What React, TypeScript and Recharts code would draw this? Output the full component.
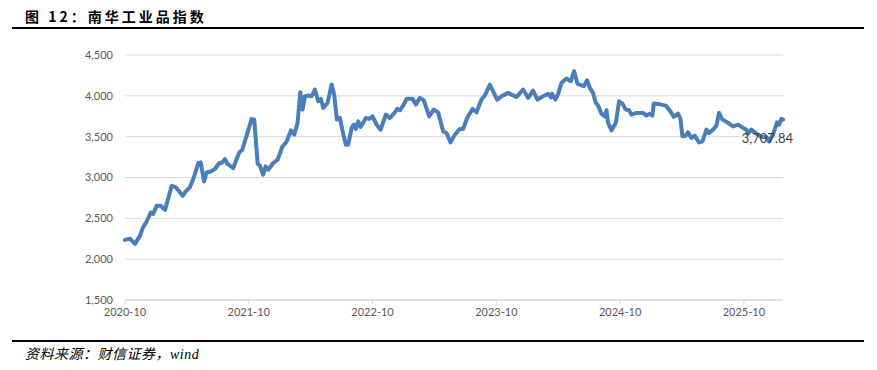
import { LineChart, Line, XAxis, YAxis, CartesianGrid } from 'recharts';

// months since 2020-10 and the index level
const months = [
  0, 0.48, 0.97, 1.45, 1.72, 2.1, 2.49, 2.74, 3.07, 3.46, 3.88, 4.2, 4.53, 4.94, 5.59, 5.81,
  6.3, 6.69, 7.1, 7.34, 7.66, 7.92, 8.3, 8.72, 9.14, 9.37, 9.69, 9.91, 10.49, 10.82, 11.08,
  11.37, 11.79, 12.28, 12.53, 12.86, 13.08, 13.4, 13.63, 13.89, 14.37, 14.8, 15.24, 15.67,
  16.09, 16.41, 16.73, 16.99, 17.22, 17.44, 17.83, 18.09, 18.41, 18.73, 18.99, 19.22, 19.64,
  20.03, 20.28, 20.54, 20.83, 21.15, 21.41, 21.64, 21.97, 22.19, 22.38, 22.61, 22.84, 23.35,
  23.67, 24.0, 24.39, 24.78, 25.29, 25.68, 26.16, 26.39, 26.65, 26.97, 27.3, 27.88, 28.2,
  28.59, 28.97, 29.49, 29.94, 30.36, 30.84, 31.17, 31.56, 31.98, 32.46, 32.78, 33.17, 33.69,
  34.08, 34.56, 34.88, 35.37, 35.69, 36.08, 36.5, 36.82, 37.14, 37.47, 37.96, 38.6, 39.08,
  39.56, 39.99, 40.53, 41.02, 41.28, 41.4, 41.73, 41.99, 42.32, 42.8, 43.22, 43.54, 43.87,
  44.09, 44.48, 44.8, 45.06, 45.38, 45.64, 45.86, 46.19, 46.51, 46.68, 46.83, 47.16, 47.58,
  47.9, 48.23, 48.55, 48.87, 49.1, 49.58, 50.22, 50.55, 50.87, 51.13, 51.26, 51.68, 52.42,
  52.88, 53.2, 53.62, 53.85, 54.04, 54.36, 54.58, 54.91, 55.23, 55.65, 55.98, 56.37, 56.62,
  57.01, 57.34, 57.59, 57.92, 58.24, 58.56, 58.95, 59.43, 59.92, 60.24, 60.4, 60.73, 61.21,
  61.7, 62.18, 62.43, 62.82, 63.21, 63.4, 63.63, 63.79,
];

const values = [
  2236, 2252, 2187, 2285, 2383, 2461, 2571, 2555, 2653, 2653, 2604, 2748, 2899, 2878, 2776, 2817,
  2883, 3006, 3177, 3185, 2952, 3062, 3074, 3104, 3177, 3177, 3226, 3169, 3116, 3226, 3307,
  3340, 3512, 3717, 3709, 3169, 3144, 3034, 3136, 3095, 3177, 3218, 3374, 3442,
  3577, 3525, 3668, 4044, 3831, 3994, 4003, 3994, 4077, 3933, 3963, 3852, 3913,
  4138, 4015, 3709, 3729, 3537, 3402, 3402, 3607, 3647, 3594, 3688, 3619, 3729,
  3717, 3749, 3647, 3586, 3770, 3729, 3798, 3840, 3823, 3880, 3963, 3963, 3893,
  3975, 3945, 3749, 3831, 3798, 3565, 3545, 3430, 3525, 3594, 3594, 3729, 3840,
  3798, 3954, 4003, 4138, 4056, 3954, 3994, 4015, 4036, 4015, 3987, 4077, 3975,
  4064, 3954, 3994, 4024, 3982, 4024, 3954, 4024, 4159, 4212, 4179, 4301, 4147,
  4138, 4117, 4191, 4098, 4036, 3914, 3880, 3782, 3749, 3823, 3668, 3577, 3668,
  3933, 3905, 3831, 3823, 3770, 3791, 3791, 3758, 3779, 3758, 3905, 3901, 3880,
  3810, 3742, 3782, 3717, 3504, 3512, 3553, 3484, 3512, 3430, 3442, 3586, 3545,
  3586, 3635, 3791, 3709, 3688, 3660, 3626, 3647, 3607, 3586, 3537, 3586, 3537,
  3496, 3496, 3442, 3525, 3676, 3647, 3717, 3707.84,
];

const tickMonths = [0, 12, 24, 36, 48, 60];
const tickLabels = ['2020-10', '2021-10', '2022-10', '2023-10', '2024-10', '2025-10'];
const yTicks = [1500, 2000, 2500, 3000, 3500, 4000, 4500];

const data = months.map((m, i) => ({ m, v: values[i] }));

const fmt = (n: number) => n.toLocaleString('en-US');

function EndLabel(props: any) {
  const { x, y, index, value } = props;
  if (index !== data.length - 1) return null;
  return (
    <text x={x + 10} y={y + 23} textAnchor="end" fontSize={13} fill="#404040" fontFamily="Lato">
      {fmt(value)}
    </text>
  );
}

export default function App() {
  return (
    <div style={{ position: 'fixed', left: 0, top: 0, width: 877, height: 370, background: '#fff' }}>
      <div
        style={{
          position: 'absolute', left: 25, top: 5, fontSize: 14, fontWeight: 700,
          letterSpacing: 3, fontFamily: '"Noto Sans CJK SC"', color: '#000', lineHeight: '22px',
        }}
      >
        图 12：南华工业品指数
      </div>
      <div style={{ position: 'absolute', left: 12, top: 27, width: 852, height: 2, background: '#000' }} />

      <div style={{ position: 'absolute', left: 0, top: 0 }}>
        <LineChart width={877} height={340} data={data} margin={{ top: 55, right: 94, bottom: 10, left: 65 }}>
          <CartesianGrid vertical={false} stroke="#d9d9d9" />
          <XAxis
            dataKey="m"
            type="number"
            domain={[0, 63.79]}
            ticks={tickMonths}
            tickFormatter={(m: number) => tickLabels[tickMonths.indexOf(m)]}
            stroke="#d9d9d9"
            tickSize={4}
            tickMargin={4}
            height={30}
            tick={{ fontSize: 11, fill: '#595959', fontFamily: 'Lato' }}
          />
          <YAxis
            domain={[1500, 4500]}
            ticks={yTicks}
            tickFormatter={fmt}
            axisLine={false}
            tickLine={false}
            tickSize={0}
            tickMargin={12}
            width={60}
            tick={{ fontSize: 11, fill: '#595959', fontFamily: 'Lato' }}
          />
          <Line
            type="linear"
            dataKey="v"
            stroke="#4a7ebb"
            strokeWidth={4}
            strokeLinejoin="round"
            strokeLinecap="round"
            dot={false}
            isAnimationActive={false}
            label={<EndLabel />}
          />
        </LineChart>
      </div>

      <div style={{ position: 'absolute', left: 12, top: 340, width: 852, height: 2, background: '#000' }} />
      <div
        style={{
          position: 'absolute', left: 25, top: 346, fontSize: 14, fontStyle: 'italic', letterSpacing: 0.5,
          fontFamily: '"Liberation Serif", "Noto Sans CJK SC", serif', color: '#000', lineHeight: '18px',
        }}
      >
        资料来源：财信证券，wind
      </div>
    </div>
  );
}
